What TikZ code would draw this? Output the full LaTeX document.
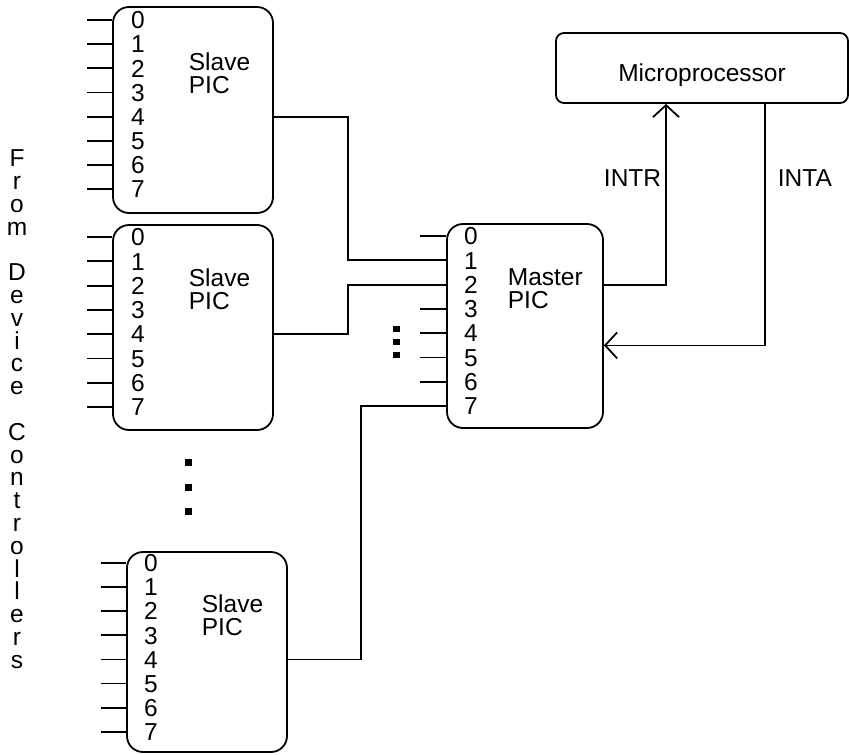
\documentclass[tikz,border=0pt]{standalone}
\usepackage{fontspec}
\setmainfont{Liberation Sans}
\usetikzlibrary{arrows.meta}
\begin{document}
\begin{tikzpicture}[x=1pt,y=-1pt,
  line width=1.8pt,
  box/.style={draw, rounded corners=16pt, inner sep=0pt},
  txt/.style={font=\fontsize{24.5}{25}\selectfont, inner sep=0pt, text height=17.5pt, text depth=0pt},
  arr/.style={-{Straight Barb[length=12pt,width=26pt]}}]
\useasboundingbox (0,0) rectangle (849,755);

% boxes
\node[box, minimum width=160pt, minimum height=206pt] (s1) at (193,110) {};
\node[box, minimum width=160pt, minimum height=205pt] (s2) at (193,327.5) {};
\node[box, minimum width=160pt, minimum height=200pt] (s3) at (207,652) {};
\node[box, minimum width=156pt, minimum height=204pt] (m) at (525,326) {};
\node[box, rounded corners=8pt, minimum width=292pt, minimum height=70pt, txt, text height=26pt] (cpu) at (702,68) {Microprocessor};

% box titles
\node[txt, anchor=west] (s1t) at (188,62) {Slave};
\node[txt, anchor=west] (s1p) at (188,85) {PIC};
\node[txt, anchor=west] (s2t) at (188,278) {Slave};
\node[txt, anchor=west] (s2p) at (188,301) {PIC};
\node[txt, anchor=west] (s3t) at (201,604) {Slave};
\node[txt, anchor=west] (s3p) at (201,627) {PIC};
\node[txt, anchor=west] (mt) at (507,277) {Master};
\node[txt, anchor=west] (mp) at (507,300) {PIC};

% pin numbers and input stubs
\foreach \i in {0,...,7} {
  \node[txt] (s1d\i) at (138,20+24.15*\i) {\i};
  \draw (s1.west |- s1d\i) -- ++(-25,0) coordinate (s1in\i);
  \node[txt] (s2d\i) at (138,237+24.3*\i) {\i};
  \draw (s2.west |- s2d\i) -- ++(-25,0) coordinate (s2in\i);
  \node[txt] (s3d\i) at (151,563+24.1*\i) {\i};
  \draw (s3.west |- s3d\i) -- ++(-25,0) coordinate (s3in\i);
  \node[txt] (md\i) at (471,236+24.3*\i) {\i};
}
\foreach \i in {0,3,4,5,6}
  \draw (m.west |- md\i) -- ++(-26,0) coordinate (min\i);

% slave outputs to master
\draw (s1.east |- s1d4) -- ++(74,0) |- (m.west |- md1);
\draw (s2.east |- s2d4) -- ++(74,0) |- (m.west |- md2);
\draw (s3.east |- s3d4) -- ++(73,0) |- (m.west |- md7);

% master <-> microprocessor
\coordinate (intrx) at (666,0);
\coordinate (intax) at (765,0);
\coordinate (intay) at (0,345.4);
\draw[arr] (m.east |- md2) -| (intrx |- cpu.south);
\draw[arr] (intax |- cpu.south) |- (m.east |- intay);
\node[txt, anchor=east] (intr) at (662,178) {INTR};
\node[txt, anchor=west] (inta) at (777,178) {INTA};

% ellipsis dots
\foreach \y in {462,487,511} \fill (184.5,\y-3.5) rectangle ++(7,7);
\foreach \y in {329,342,355} \fill (392.5,\y-3.2) rectangle ++(7,6.4);

% vertical caption
\foreach \ch [count=\i from 0] in {F,r,o,m}
  \node[txt] (vf\i) at (17,158+22.8*\i) {\ch};
\foreach \ch [count=\i from 5] in {D,e,v,i,c,e}
  \node[txt] (vd\i) at (17,158+22.8*\i) {\ch};
\foreach \ch [count=\i from 12] in {C,o,n,t,r,o,l,l,e,r,s}
  \node[txt] (vc\i) at (17,158+22.8*\i) {\ch};
\end{tikzpicture}
\end{document}
